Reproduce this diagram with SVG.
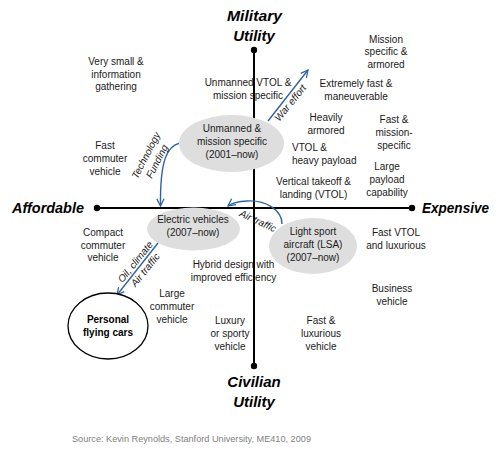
<svg xmlns="http://www.w3.org/2000/svg" width="502" height="463" viewBox="0 0 502 463">
<defs>
<style>
text{font-family:"Liberation Sans",Arial,sans-serif;fill:#1a1a1a}
.t{font-size:10px;text-anchor:middle}
.l{font-size:10px;text-anchor:start}
.ax{font-size:15px;font-weight:bold;font-style:italic;text-anchor:middle;fill:#000}
.lbl{font-size:10px;font-style:italic;text-anchor:middle}
.b{font-size:10px;font-weight:bold;text-anchor:middle;fill:#000}
.src{font-size:9px;fill:#7f7f7f}
.axis{stroke:#000;stroke-width:2;fill:none}
.ell{fill:#dedede;stroke:none}
.conn{stroke:#2e63a0;stroke-width:1.4;fill:none;marker-end:url(#arr)}
</style>
<marker id="arr" viewBox="0 0 10 10" refX="9" refY="5" markerWidth="9" markerHeight="9" orient="auto" markerUnits="userSpaceOnUse">
<path d="M1,1 L9,5 L1,9" fill="none" stroke="#2e63a0" stroke-width="1.4"/>
</marker>
</defs>
<rect width="502" height="463" fill="#fff"/>

<g id="axes">
<line class="axis" x1="254" y1="50" x2="254" y2="366"/>
<line class="axis" x1="97" y1="208" x2="412" y2="208"/>
<circle cx="254" cy="50" r="3.2"/>
<circle cx="254" cy="366" r="3.2"/>
<circle cx="97" cy="208" r="3.2"/>
<circle cx="412" cy="208" r="3.2"/>
<text class="ax" x="254.5" y="21" textLength="55" lengthAdjust="spacingAndGlyphs">Military</text>
<text class="ax" x="254" y="41">Utility</text>
<text class="ax" x="254" y="387">Civilian</text>
<text class="ax" x="254" y="407">Utility</text>
<text class="ax" x="48" y="213" textLength="72" lengthAdjust="spacingAndGlyphs">Affordable</text>
<text class="ax" x="455.5" y="213" textLength="67" lengthAdjust="spacingAndGlyphs">Expensive</text>
</g>

<g id="connectors">
<path class="conn" d="M268,121 L308,70"/>
<path class="conn" d="M180,143 C167,146 160,160 160.5,206"/>
<path class="conn" d="M282,224 C282,210 266,200 247,201 C238,201.5 232,203 228,206"/>
<path class="conn" d="M158,243 L117,295"/>
<text class="lbl" transform="translate(293,105) rotate(-51)">War effort</text>
<text class="lbl" transform="translate(149,157) rotate(-63)">Technology</text>
<text class="lbl" transform="translate(160,163) rotate(-63)">Funding</text>
<text class="lbl" transform="translate(256.5,224) rotate(25)">Air traffic</text>
<text class="lbl" transform="translate(138,264) rotate(-51)">Oil, climate</text>
<text class="lbl" transform="translate(148,272) rotate(-51)">Air traffic</text>
</g>

<g id="unmanned">
<ellipse class="ell" cx="231.5" cy="143.5" rx="52.5" ry="28.5"/>
<text class="t" x="232" y="132">Unmanned &amp;</text>
<text class="t" x="232" y="145">mission specific</text>
<text class="t" x="232" y="158">(2001–now)</text>
</g>

<g id="electric">
<ellipse class="ell" cx="193.5" cy="229" rx="46.5" ry="21.5"/>
<text class="t" x="193" y="223">Electric vehicles</text>
<text class="t" x="193" y="235.5">(2007–now)</text>
</g>

<g id="lsa">
<ellipse class="ell" cx="313" cy="246" rx="44" ry="28"/>
<text class="t" x="313" y="235">Light sport</text>
<text class="t" x="313" y="247.5">aircraft (LSA)</text>
<text class="t" x="313" y="260.5">(2007–now)</text>
</g>

<g id="personal">
<ellipse cx="108" cy="326" rx="40" ry="33" fill="#fff" stroke="#000" stroke-width="1.3"/>
<text class="b" x="108" y="323">Personal</text>
<text class="b" x="108" y="336">flying cars</text>
</g>

<g id="labels">
<text class="t" x="116" y="65">Very small &amp;</text>
<text class="t" x="116" y="77.5">information</text>
<text class="t" x="116" y="90">gathering</text>

<text class="t" x="105" y="149">Fast</text>
<text class="t" x="105" y="162">commuter</text>
<text class="t" x="105" y="175">vehicle</text>

<text class="t" x="248" y="86">Unmanned VTOL &amp;</text>
<text class="t" x="248" y="98.5">mission specific</text>

<text class="t" x="386" y="42.5">Mission</text>
<text class="t" x="386" y="55">specific &amp;</text>
<text class="t" x="386" y="68">armored</text>

<text class="t" x="356" y="87">Extremely fast &amp;</text>
<text class="t" x="356" y="100">maneuverable</text>

<text class="t" x="326" y="120.5">Heavily</text>
<text class="t" x="326" y="133.5">armored</text>

<text class="l" x="292" y="151">VTOL &amp;</text>
<text class="l" x="292" y="164">heavy payload</text>

<text class="t" x="394" y="123">Fast &amp;</text>
<text class="t" x="394" y="136">mission-</text>
<text class="t" x="394" y="149">specific</text>

<text class="t" x="387" y="170">Large</text>
<text class="t" x="387" y="183">payload</text>
<text class="t" x="387" y="196">capability</text>

<text class="t" x="313.5" y="185">Vertical takeoff &amp;</text>
<text class="t" x="313.5" y="197.5">landing (VTOL)</text>

<text class="t" x="103" y="236">Compact</text>
<text class="t" x="103" y="248.5">commuter</text>
<text class="t" x="103" y="261">vehicle</text>

<text class="t" x="396" y="236">Fast VTOL</text>
<text class="t" x="396" y="249">and luxurious</text>

<text class="t" x="233.5" y="268">Hybrid design with</text>
<text class="t" x="233.5" y="280.5">improved efficiency</text>

<text class="t" x="172" y="297">Large</text>
<text class="t" x="172" y="310">commuter</text>
<text class="t" x="172" y="323">vehicle</text>

<text class="t" x="392" y="292">Business</text>
<text class="t" x="392" y="304.5">vehicle</text>

<text class="t" x="230" y="324">Luxury</text>
<text class="t" x="230" y="337">or sporty</text>
<text class="t" x="230" y="350">vehicle</text>

<text class="t" x="321" y="324">Fast &amp;</text>
<text class="t" x="321" y="337">luxurious</text>
<text class="t" x="321" y="350">vehicle</text>

<text class="src" x="72" y="442" textLength="239" lengthAdjust="spacingAndGlyphs">Source: Kevin Reynolds, Stanford University, ME410, 2009</text>
</g>
</svg>
